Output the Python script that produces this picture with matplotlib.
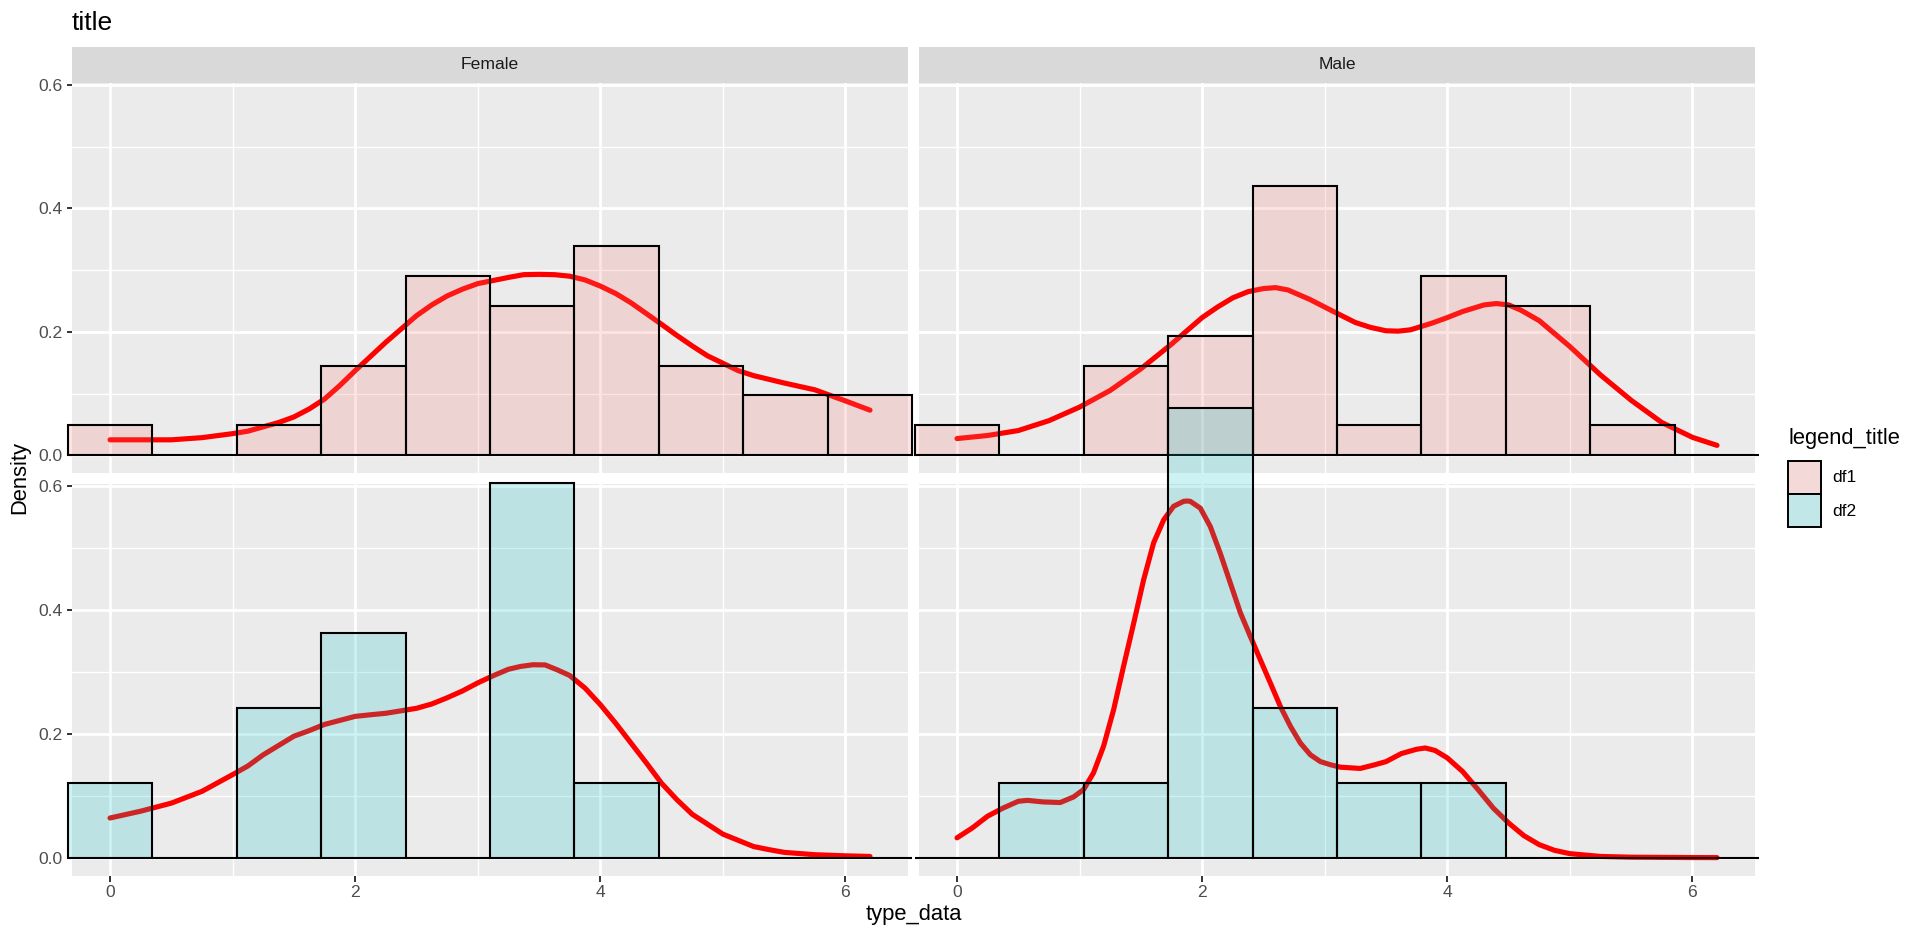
import matplotlib
matplotlib.use("Agg")
import matplotlib.pyplot as plt
from matplotlib.patches import Rectangle
from matplotlib.colors import to_rgba

plt.rcParams['font.family'] = ['Liberation Sans', 'DejaVu Sans']

# ---------------- data ----------------
bin_centers = [0.0, 0.689, 1.378, 2.067, 2.756, 3.444, 4.133, 4.822, 5.511, 6.2]
binwidth = 0.689

hist_female_df1 = [0.0484, 0.0, 0.0484, 0.1451, 0.2903, 0.2419, 0.3387, 0.1451, 0.0968, 0.0968]
hist_male_df1 = [0.0484, 0.0, 0.1451, 0.1935, 0.4354, 0.0484, 0.2903, 0.2419, 0.0484, 0.0]
hist_female_df2 = [0.1210, 0.0, 0.2419, 0.3629, 0.0, 0.6048, 0.1210, 0.0, 0.0, 0.0]
hist_male_df2 = [0.0, 0.1210, 0.1210, 0.7258, 0.2419, 0.1210, 0.1210, 0.0, 0.0, 0.0]

dens_female_df1_x = [0, 0.25, 0.5, 0.75, 1, 1.125, 1.25, 1.375, 1.5, 1.625, 1.75, 1.875, 2,
                     2.25, 2.5, 2.625, 2.75, 2.875, 3, 3.125, 3.25, 3.375, 3.5, 3.625, 3.75,
                     3.875, 4, 4.125, 4.25, 4.375, 4.5, 4.625, 4.75, 4.875, 5, 5.125, 5.25,
                     5.5, 5.75, 6, 6.2]
dens_female_df1_y = [0.025, 0.025, 0.025, 0.0285, 0.035, 0.039, 0.046, 0.053, 0.062, 0.075,
                     0.091, 0.113, 0.137, 0.183, 0.226, 0.2435, 0.258, 0.269, 0.278, 0.283,
                     0.288, 0.2925, 0.293, 0.2925, 0.290, 0.284, 0.274, 0.262, 0.247, 0.2295,
                     0.212, 0.194, 0.177, 0.161, 0.149, 0.137, 0.129, 0.117, 0.106, 0.088,
                     0.073]

dens_male_df1_x = [0, 0.25, 0.5, 0.75, 1, 1.25, 1.5, 1.625, 1.75, 1.875, 2, 2.125, 2.25, 2.375,
                   2.5, 2.6, 2.7, 2.875, 3, 3.125, 3.25, 3.375, 3.5, 3.6, 3.7, 3.875, 4, 4.125,
                   4.3, 4.4, 4.5, 4.6, 4.75, 5, 5.25, 5.5, 5.75, 6, 6.2]
dens_male_df1_y = [0.027, 0.032, 0.040, 0.056, 0.078, 0.105, 0.140, 0.160, 0.180, 0.2016, 0.223,
                   0.240, 0.255, 0.265, 0.270, 0.2715, 0.2677, 0.2527, 0.240, 0.2274, 0.215,
                   0.207, 0.2016, 0.2010, 0.2032, 0.214, 0.223, 0.2328, 0.2435, 0.2457, 0.2435,
                   0.235, 0.218, 0.176, 0.130, 0.089, 0.053, 0.029, 0.016]

dens_female_df2_x = [0, 0.25, 0.5, 0.75, 1, 1.125, 1.25, 1.375, 1.5, 1.625, 1.75, 1.875, 2,
                     2.125, 2.25, 2.375, 2.5, 2.625, 2.75, 2.875, 3, 3.125, 3.25, 3.35, 3.45,
                     3.55, 3.65, 3.75, 3.875, 4, 4.125, 4.25, 4.375, 4.5, 4.625, 4.75, 4.875,
                     5, 5.125, 5.25, 5.375, 5.5, 5.75, 6, 6.2]
dens_female_df2_y = [0.064, 0.075, 0.088, 0.107, 0.134, 0.148, 0.166, 0.181, 0.196, 0.205,
                     0.215, 0.2215, 0.228, 0.2306, 0.233, 0.237, 0.241, 0.248, 0.258, 0.269,
                     0.282, 0.2935, 0.304, 0.3086, 0.3113, 0.311, 0.303, 0.294, 0.2737, 0.247,
                     0.217, 0.185, 0.153, 0.120, 0.0935, 0.070, 0.054, 0.038, 0.028, 0.018,
                     0.013, 0.0086, 0.0048, 0.003, 0.002]

dens_male_df2_x = [0, 0.125, 0.25, 0.375, 0.5, 0.575, 0.7, 0.842, 0.951, 1.033, 1.114, 1.196,
                   1.278, 1.359, 1.441, 1.522, 1.604, 1.686, 1.767, 1.849, 1.876, 1.903, 1.985,
                   2.067, 2.148, 2.230, 2.312, 2.393, 2.475, 2.556, 2.638, 2.720, 2.801, 2.883,
                   2.965, 3.046, 3.128, 3.29, 3.4, 3.5, 3.625, 3.75, 3.82, 3.9, 4.0, 4.125,
                   4.25, 4.375, 4.5, 4.625, 4.75, 4.875, 5.0, 5.25, 5.5, 6.0, 6.2]
dens_male_df2_y = [0.032, 0.048, 0.067, 0.080, 0.091, 0.0925, 0.090, 0.089, 0.098, 0.110,
                   0.137, 0.180, 0.239, 0.309, 0.378, 0.448, 0.508, 0.545, 0.567, 0.575,
                   0.5755, 0.575, 0.564, 0.534, 0.491, 0.443, 0.395, 0.357, 0.319, 0.282,
                   0.244, 0.212, 0.185, 0.166, 0.155, 0.150, 0.146, 0.144, 0.1495, 0.155,
                   0.168, 0.175, 0.177, 0.173, 0.161, 0.139, 0.110, 0.080, 0.056, 0.0355,
                   0.021, 0.0118, 0.0065, 0.002, 0.0008, 0.0002, 0.0001]

facets = ["Female", "Male"]
groups = ["df1", "df2"]
group_colors = {"df1": "#F8766D", "df2": "#00BFC4"}
x_ticks = [0, 2, 4, 6]
y_ticks = [0.0, 0.2, 0.4, 0.6]
y_tick_labels = ["0.0", "0.2", "0.4", "0.6"]

hist_data = {("df1", "Female"): hist_female_df1, ("df1", "Male"): hist_male_df1,
             ("df2", "Female"): hist_female_df2, ("df2", "Male"): hist_male_df2}
dens_data = {("df1", "Female"): (dens_female_df1_x, dens_female_df1_y),
             ("df1", "Male"): (dens_male_df1_x, dens_male_df1_y),
             ("df2", "Female"): (dens_female_df2_x, dens_female_df2_y),
             ("df2", "Male"): (dens_male_df2_x, dens_male_df2_y)}

# ---------------- layout ----------------
W, H = 1920, 940
fig = plt.figure(figsize=(W / 100, H / 100), dpi=100)
fig.patch.set_facecolor("white")

def fx(px):
    return px / W

def fy(py):
    return 1 - py / H

cols = [(72, 908), (919, 1755)]
rows = [(82.5, 473), (483.5, 875.5)]
strip = (47, 82.5)

FS_TICK = 12.6
FS_AX = 15.8

for r, grp in enumerate(groups):
    for c, fac in enumerate(facets):
        x0, x1 = cols[c]
        y0, y1 = rows[r]
        ax = fig.add_axes([fx(x0), fy(y1), (x1 - x0) / W, (y1 - y0) / H])
        ax.set_facecolor("#EBEBEB")
        for s in ax.spines.values():
            s.set_visible(False)
        ax.set_xlim(-0.31, 6.51)
        ax.set_ylim(-0.02875, 0.60375)
        ax.set_xticks(x_ticks)
        ax.set_xticks([1, 3, 5], minor=True)
        ax.set_yticks(y_ticks)
        ax.set_yticks([0.1, 0.3, 0.5], minor=True)
        ax.set_axisbelow(True)
        ax.grid(which="major", color="white", lw=2.0)
        ax.grid(which="minor", color="white", lw=1.0)
        ax.tick_params(which="minor", length=0)
        if c == 0:
            ax.set_yticklabels(y_tick_labels)
            ax.tick_params(axis="y", which="major", length=3.96, width=1.4, color="#333333",
                           labelcolor="#4D4D4D", labelsize=FS_TICK, pad=3.0)
        else:
            ax.tick_params(axis="y", which="major", length=0, labelleft=False)
        if r == 1:
            ax.set_xticklabels([str(t) for t in x_ticks])
            ax.tick_params(axis="x", which="major", length=3.96, width=1.4, color="#333333",
                           labelcolor="#4D4D4D", labelsize=FS_TICK, pad=3.0)
        else:
            ax.tick_params(axis="x", which="major", length=0, labelbottom=False)

        dx, dy = dens_data[(grp, fac)]
        ax.plot(dx, dy, color="#FF0000", lw=3.7, zorder=2, solid_capstyle="round",
                solid_joinstyle="round", clip_on=False)
        ax.bar(bin_centers, hist_data[(grp, fac)], width=binwidth,
               color=to_rgba(group_colors[grp], 0.2), edgecolor="black", linewidth=1.5,
               zorder=3, clip_on=False)

# strips
for c, fac in enumerate(facets):
    x0, x1 = cols[c]
    sax = fig.add_axes([fx(x0), fy(strip[1]), (x1 - x0) / W, (strip[1] - strip[0]) / H])
    sax.set_facecolor("#D9D9D9")
    sax.set_xticks([])
    sax.set_yticks([])
    for s in sax.spines.values():
        s.set_visible(False)
    sax.text(0.5, 0.5, fac, ha="center", va="center", fontsize=FS_TICK, color="#1A1A1A",
             transform=sax.transAxes)

# titles
fig.text(fx(72), fy(30), "title", fontsize=19, ha="left", va="baseline", color="black")
fig.text(fx(913.5), fy(920), "type_data", fontsize=FS_AX, ha="center", va="baseline",
         color="black")
fig.text(fx(20), fy(478), "Density", fontsize=FS_AX, ha="center", va="center",
         rotation=90, color="black")

# legend
fig.text(fx(1788), fy(444), "legend_title", fontsize=FS_AX, ha="left", va="baseline",
         color="black")
key_tops = [461, 494]
for grp, kt in zip(groups, key_tops):
    fig.patches.append(Rectangle((fx(1788), fy(kt + 33)), 33 / W, 33 / H,
                                 transform=fig.transFigure, facecolor="#F2F2F2",
                                 edgecolor="none"))
    fig.patches.append(Rectangle((fx(1788), fy(kt + 33)), 33 / W, 33 / H,
                                 transform=fig.transFigure,
                                 facecolor=to_rgba(group_colors[grp], 0.2),
                                 edgecolor="black", linewidth=1.4))
    fig.text(fx(1832), fy(kt + 17), grp, fontsize=FS_TICK, ha="left", va="center",
             color="black")

fig.savefig("out.png", dpi=100)
